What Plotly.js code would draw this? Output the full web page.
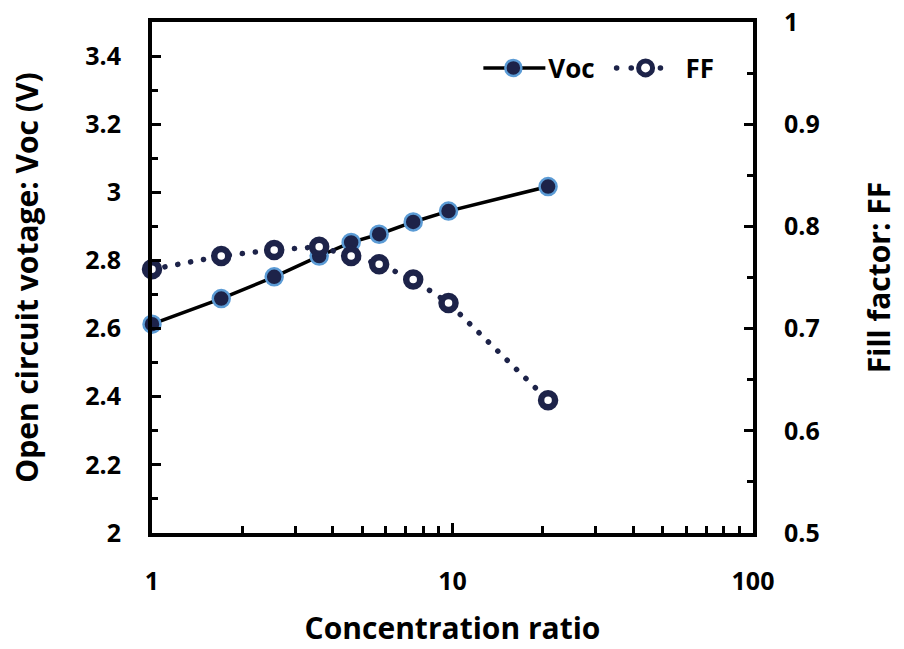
<!DOCTYPE html>
<html>
<head>
<meta charset="utf-8">
<script src="https://cdn.plot.ly/plotly-3.0.1.min.js"></script>
<style>html,body{margin:0;padding:0;background:#fff;}#chart{width:904px;height:649px;}</style>
</head>
<body>
<div id="chart"></div>
<script>
// Data
const concentration = [1, 1.7, 2.55, 3.6, 4.6, 5.7, 7.4, 9.7, 20.8];
const vocValues = [2.613, 2.688, 2.752, 2.813, 2.853, 2.877, 2.913, 2.945, 3.017];
const ffValues = [0.758, 0.771, 0.777, 0.780, 0.771, 0.763, 0.748, 0.725, 0.630];
const xTickVals = [1, 10, 100];
const xTickText = ['1', '10', '100'];
const xMinorVals = [2,3,4,5,6,7,8,9,20,30,40,50,60,70,80,90];

const navy = '#1d2349';
const fontFam = '"Open Sans", "Noto Sans", sans-serif';

const traces = [
  {
    x: concentration, y: vocValues, name: 'Voc', type: 'scatter', mode: 'lines+markers',
    line: {color: '#000000', width: 3.5},
    marker: {size: 17, color: navy, line: {color: '#5b9bd5', width: 2.5}},
    yaxis: 'y', legend: 'legend', cliponaxis: false
  },
  {
    x: concentration, y: ffValues, name: 'FF', type: 'scatter', mode: 'lines+markers',
    line: {color: navy, width: 5.5, dash: '1px,12px'},
    marker: {size: 14, color: '#ffffff', line: {color: navy, width: 6.5}},
    yaxis: 'y2', legend: 'legend2', cliponaxis: false
  }
];

const tickFont = {family: fontFam, size: 25, color: '#000', weight: 700};
const titleFont = {family: fontFam, size: 30, color: '#000', weight: 700};
const legFont = {family: fontFam, size: 26, color: '#000', weight: 700};
const layout = {
  width: 904, height: 649,
  margin: {l: 152, r: 151, t: 22, b: 116},
  paper_bgcolor: '#fff', plot_bgcolor: '#fff',
  showlegend: true,
  legend: {x: 0.568, y: 0.91, xanchor: 'left', yanchor: 'middle', font: legFont, bgcolor: 'rgba(0,0,0,0)'},
  legend2: {x: 0.788, y: 0.91, xanchor: 'left', yanchor: 'middle', font: legFont, bgcolor: 'rgba(0,0,0,0)'},
  xaxis: {
    type: 'log', range: [0, 2],
    tickvals: xTickVals, ticktext: xTickText,
    ticks: 'inside', ticklen: 10, tickwidth: 3, tickcolor: '#000',
    minor: {tickvals: xMinorVals, ticks: 'inside', ticklen: 7, tickwidth: 3, tickcolor: '#000', showgrid: false},
    showline: true, linewidth: 4, linecolor: '#000', mirror: true,
    showgrid: false, zeroline: false,
    tickfont: tickFont, ticklabelstandoff: 23,
    title: {text: 'Concentration ratio', font: titleFont, standoff: 23}
  },
  yaxis: {
    range: [2, 3.5], tick0: 2, dtick: 0.2,
    ticks: 'inside', ticklen: 9, tickwidth: 3, tickcolor: '#000',
    minor: {dtick: 0.1, tick0: 2, ticks: 'inside', ticklen: 6, tickwidth: 3, tickcolor: '#000', showgrid: false},
    showline: true, linewidth: 4, linecolor: '#000',
    showgrid: false, zeroline: false,
    tickfont: tickFont, ticklabelstandoff: 22,
    title: {text: 'Open circuit votage: Voc (V)', font: titleFont, standoff: 39}
  },
  yaxis2: {
    overlaying: 'y', side: 'right',
    range: [0.5, 1.0], tick0: 0.5, dtick: 0.1,
    ticks: 'inside', ticklen: 9, tickwidth: 3, tickcolor: '#000',
    minor: {dtick: 0.05, tick0: 0.5, ticks: 'inside', ticklen: 6, tickwidth: 3, tickcolor: '#000', showgrid: false},
    showline: true, linewidth: 4, linecolor: '#000',
    showgrid: false, zeroline: false,
    tickfont: tickFont, ticklabelstandoff: 22,
    title: {text: 'Fill factor: FF', font: titleFont, standoff: 51}
  }
};

function restyleSvg(gd) {
  // round dotted line for FF trace
  const ffTrace = gd.querySelectorAll('.scatterlayer .trace')[1];
  if (ffTrace) {
    ffTrace.querySelectorAll('.js-line').forEach(function (p) {
      p.style.strokeLinecap = 'round';
      p.style.strokeDasharray = '0.1px,13px';
    });
  }
  // longer legend symbols, like the reference
  const legs = gd.querySelectorAll('g.legend, g.legend2');
  legs.forEach(function (leg) {
    leg.querySelectorAll('[clip-path]').forEach(function (el) { el.removeAttribute('clip-path'); });
    leg.removeAttribute('clip-path');
    const isFF = leg.classList.contains('legend2');
    leg.querySelectorAll('.traces').forEach(function (t) {
      const ln = t.querySelector('.legendlines path');
      const tx = t.querySelector('text');
      if (ln) {
        ln.setAttribute('d', isFF ? 'M-9,0h58' : 'M-10,0h62');
        if (isFF) {
          ln.style.strokeLinecap = 'round';
          ln.style.strokeDasharray = '0.1px,14.5px';
        }
      }
      if (tx) tx.setAttribute('x', isFF ? 60 : 55);
    });
  });
}

Plotly.newPlot('chart', traces, layout, {displayModeBar: false, staticPlot: true}).then(function (gd) {
  restyleSvg(gd);
  gd.on('plotly_afterplot', function () { restyleSvg(gd); });
  setTimeout(function () { restyleSvg(gd); }, 50);
});
</script>
</body>
</html>
